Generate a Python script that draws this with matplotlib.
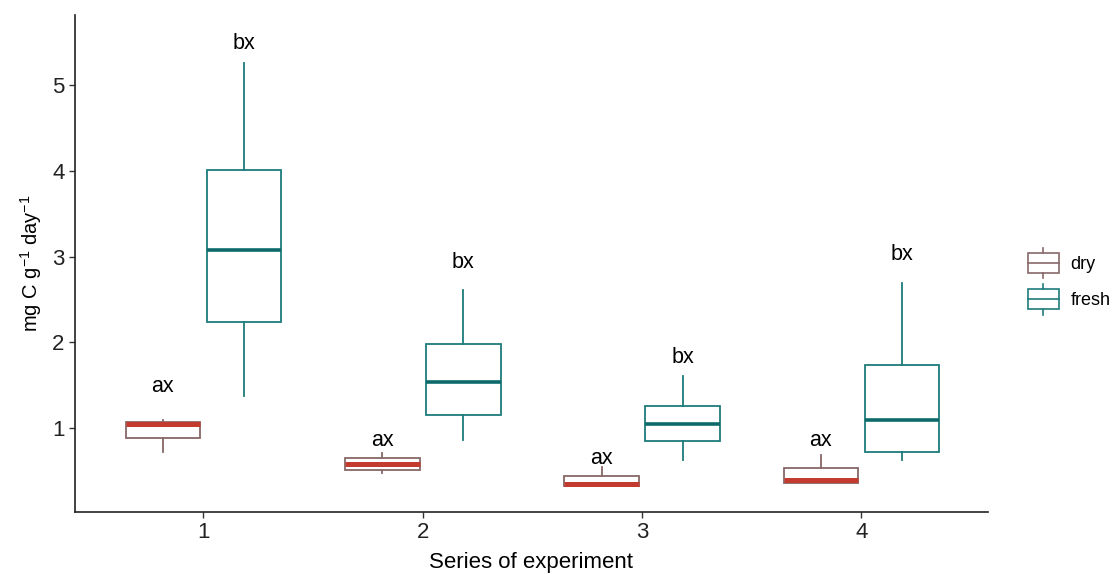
import numpy as np
import matplotlib
matplotlib.use("Agg")
import matplotlib.pyplot as plt
from matplotlib.legend_handler import HandlerBase
from matplotlib.patches import Rectangle
from matplotlib.lines import Line2D

plt.rcParams['font.family'] = ['Liberation Sans', 'DejaVu Sans']
plt.rcParams['mathtext.default'] = 'regular'

series = [1, 2, 3, 4]

# dry treatment: lower whisker, Q1, median, Q3, upper whisker
dry_lo = [0.72, 0.475, 0.32, 0.36]
dry_q1 = [0.88, 0.51, 0.32, 0.36]
dry_med = [1.05, 0.58, 0.35, 0.39]
dry_q3 = [1.07, 0.65, 0.44, 0.53]
dry_hi = [1.09, 0.71, 0.545, 0.685]

# fresh treatment
fresh_lo = [1.37, 0.86, 0.63, 0.63]
fresh_q1 = [2.24, 1.15, 0.85, 0.72]
fresh_med = [3.08, 1.54, 1.05, 1.09]
fresh_q3 = [4.01, 1.98, 1.26, 1.735]
fresh_hi = [5.26, 2.61, 1.61, 2.69]

# letters above boxes
dry_letters = ['ax', 'ax', 'ax', 'ax']
fresh_letters = ['bx', 'bx', 'bx', 'bx']
dry_letter_y = [1.48, 0.86, 0.65, 0.86]
fresh_letter_y = [5.49, 2.93, 1.82, 3.02]

dry_edge = '#876868'
dry_median = '#C23B2E'
fresh_edge = '#1E7B7B'
fresh_median = '#0D6A6A'

offset = 0.185
box_w = 0.34


def make_stats(lo, q1, med, q3, hi):
    return [dict(whislo=a, q1=b, med=c, q3=d, whishi=e, fliers=[])
            for a, b, c, d, e in zip(lo, q1, med, q3, hi)]


fig = plt.figure(figsize=(11.17, 5.74), dpi=100)
ax = fig.add_axes([0.0671, 0.108, 0.8174, 0.866])

x = np.array(series, dtype=float)

ax.bxp(make_stats(dry_lo, dry_q1, dry_med, dry_q3, dry_hi),
       positions=x - offset, widths=box_w, showcaps=False, showfliers=False,
       patch_artist=True,
       boxprops=dict(facecolor='white', edgecolor=dry_edge, linewidth=1.3),
       whiskerprops=dict(color=dry_edge, linewidth=1.3),
       medianprops=dict(color=dry_median, linewidth=3.6, solid_capstyle='butt'))

ax.bxp(make_stats(fresh_lo, fresh_q1, fresh_med, fresh_q3, fresh_hi),
       positions=x + offset, widths=box_w, showcaps=False, showfliers=False,
       patch_artist=True,
       boxprops=dict(facecolor='white', edgecolor=fresh_edge, linewidth=1.3),
       whiskerprops=dict(color=fresh_edge, linewidth=1.3),
       medianprops=dict(color=fresh_median, linewidth=2.6, solid_capstyle='butt'))

for xi, lab, yv in zip(x - offset, dry_letters, dry_letter_y):
    ax.text(xi, yv, lab, ha='center', va='center', fontsize=15.5)
for xi, lab, yv in zip(x + offset, fresh_letters, fresh_letter_y):
    ax.text(xi, yv, lab, ha='center', va='center', fontsize=15.5)

ax.set_xlim(0.414, 4.577)
ax.set_ylim(0.02, 5.82)
ax.set_xticks(series)
ax.set_xticklabels([str(s) for s in series])
ax.set_yticks([1, 2, 3, 4, 5])
ax.tick_params(labelsize=16, color='#333333', length=4, width=1, labelcolor='#222222')
ax.spines['top'].set_visible(False)
ax.spines['right'].set_visible(False)
for s in ['left', 'bottom']:
    ax.spines[s].set_linewidth(1.2)
    ax.spines[s].set_color('#222222')

ax.set_xlabel('Series of experiment', fontsize=16, labelpad=6)
ax.set_ylabel('mg C g$^{-1}$ day$^{-1}$', fontsize=14.5, labelpad=6)


class BoxHandler(HandlerBase):
    def create_artists(self, legend, orig, xd, yd, width, height, fontsize, trans):
        col = orig.get_color()
        cx = xd + width / 2
        bw = width * 0.85
        bh = height * 1.0
        rect = Rectangle((cx - bw / 2, -yd), bw, bh, facecolor='white',
                         edgecolor=col, linewidth=1.2, transform=trans)
        mid = Line2D([cx - bw / 2, cx + bw / 2], [-yd + bh / 2] * 2,
                     color=col, linewidth=1.2, transform=trans)
        top = Line2D([cx, cx], [-yd + bh, -yd + bh + 4], color=col,
                     linewidth=1.2, transform=trans)
        bot = Line2D([cx, cx], [-yd, -yd - 4], color=col,
                     linewidth=1.2, transform=trans)
        return [rect, mid, top, bot]


handles = [Line2D([], [], color=dry_edge), Line2D([], [], color=fresh_edge)]
fig.legend(handles, ['dry', 'fresh'], handler_map={Line2D: BoxHandler()},
           loc='center left', bbox_to_anchor=(0.918, 0.51), frameon=False,
           fontsize=13, handlelength=2.0, handleheight=1.3, labelspacing=0.9,
           handletextpad=0.5, borderaxespad=0, borderpad=0)

fig.savefig('out.png', dpi=100)
